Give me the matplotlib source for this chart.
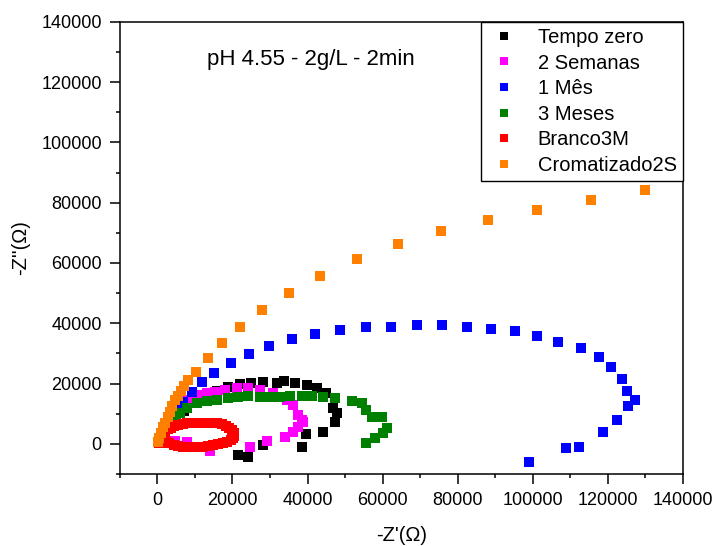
import matplotlib
matplotlib.use("Agg")
import matplotlib.pyplot as plt
from matplotlib.ticker import MultipleLocator

plt.rcParams['font.family'] = ['Liberation Sans', 'DejaVu Sans']

# Nyquist data, -Z' and -Z'' in ohm
t0_x = [1000, 2000, 3500, 5000, 7000, 9500, 12500, 16000, 18800, 22000, 24900, 28100,
        31800, 33700, 36600, 39800, 42500, 44900, 46800, 47800, 47300, 44100, 39600,
        38500, 28100, 24100, 21400]
t0_y = [1000, 3500, 6000, 8500, 11000, 13500, 15500, 17500, 18900, 19900, 20200, 20600,
        20200, 20900, 20200, 19600, 18600, 16900, 12000, 10300, 7300, 4000, 3300,
        -1000, -300, -4300, -3700]

s2_x = [1000, 2000, 3500, 5000, 6500, 7900, 10500, 13200, 15300, 18000, 21200, 24100,
        27300, 30800, 34500, 36100, 37400, 38500, 38800, 37400, 36100, 34000, 29200,
        24600, 14000, 7900, 4800]
s2_y = [1500, 4000, 7000, 9500, 12000, 14600, 16300, 16900, 17300, 17900, 18600, 18600,
        17900, 16900, 14600, 12900, 9600, 8000, 7300, 5600, 4000, 2300, 1000,
        -1000, -2300, 700, 1000]

m1_x = [800, 1500, 2500, 3500, 4500, 5500, 6800, 9200, 11900, 15100, 19600, 24400,
        29700, 35800, 42000, 48600, 55600, 62200, 69100, 75800, 82400, 88800, 95300,
        101100, 106700, 112800, 117600, 120800, 123800, 125100, 127200, 125400,
        122400, 118700, 112300, 108800, 99000]
m1_y = [1500, 3000, 5000, 7200, 9500, 11900, 13900, 17100, 20600, 23600, 26900, 29900,
        32500, 34800, 36500, 37800, 38800, 38800, 39500, 39500, 38800, 38200, 37500,
        35800, 33800, 31800, 28900, 25500, 21600, 17600, 14600, 12600,
        8000, 4000, -1000, -1300, -6000]

m3_x = [500, 1200, 2000, 3200, 4700, 6000, 7900, 10500, 13200, 15900, 18800, 21400,
        24100, 27300, 30000, 32600, 35300, 38500, 41200, 44100, 47300, 51800, 54600,
        55600, 57200, 59900, 61200, 60100, 58000, 55600]
m3_y = [1000, 2500, 4500, 6500, 8600, 10200, 11900, 13600, 14300, 14600, 15300, 15600,
        15900, 15600, 15600, 15600, 15900, 15900, 15900, 15600, 15300, 14300, 13600,
        11300, 9000, 9000, 5300, 3600, 2000, 300]

br_x = [300, 600, 1000, 1500, 2000, 2700, 3500, 4500, 5500, 6700, 8000, 9300, 10700,
        12000, 13400, 14800, 16000, 17200, 18300, 19200, 19900, 20400, 20500, 20200,
        19500, 18600, 17500, 16200, 14800, 13400, 12000, 10700, 9300, 8000, 6700,
        5500, 4300, 3200, 2300]
br_y = [300, 1200, 2200, 3200, 4000, 4800, 5400, 5900, 6300, 6600, 6800, 6900, 7000,
        7000, 7000, 6900, 6800, 6500, 6000, 5300, 4500, 3600, 2700, 1900,
        1200, 700, 300, 0, -300, -600, -900, -1100, -1200, -1100, -900,
        -600, -300, 100, 600]

cr_x = [200, 500, 1000, 1500, 2000, 2800, 3300, 4000, 4800, 5500, 6300, 7200, 8100,
        10300, 13500, 17200, 22000, 27800, 35000, 43300, 53200, 64100, 75500, 88000,
        101100, 115500, 129900]
cr_y = [500, 2000, 3600, 5500, 7000, 9000, 10500, 12500, 14500, 16000, 17500, 19300,
        21200, 23900, 28500, 33500, 38800, 44500, 50100, 55700, 61400, 66400, 70700,
        74300, 77600, 81000, 84300]

series = [
    (t0_x, t0_y, '#000000', 'Tempo zero'),
    (s2_x, s2_y, '#FF00FF', '2 Semanas'),
    (m1_x, m1_y, '#0000FF', '1 Mês'),
    (m3_x, m3_y, '#008000', '3 Meses'),
    (br_x, br_y, '#FF0000', 'Branco3M'),
    (cr_x, cr_y, '#FF8000', 'Cromatizado2S'),
]

fig = plt.figure(figsize=(7.18, 5.46), dpi=100)
ax = fig.add_axes([0.167, 0.132, 0.784, 0.828])

for x, y, c, lab in series:
    ax.plot(x, y, 's', color=c, ms=7.2, mew=0, label=lab)

ax.set_xlim(-10000, 140000)
ax.set_ylim(-10000, 140000)
ax.xaxis.set_major_locator(MultipleLocator(20000))
ax.xaxis.set_minor_locator(MultipleLocator(10000))
ax.yaxis.set_major_locator(MultipleLocator(20000))
ax.yaxis.set_minor_locator(MultipleLocator(10000))
ax.tick_params(which='major', direction='out', length=7, width=1.1, labelsize=13, pad=6)
ax.tick_params(which='minor', direction='out', length=3, width=1.1)
for s in ax.spines.values():
    s.set_linewidth(1.1)

ax.set_xlabel("-Z'(Ω)", fontsize=14.5, labelpad=12)
ax.set_ylabel("-Z''(Ω)", fontsize=14.5, labelpad=8)

ax.text(0.339, 0.916, 'pH 4.55 - 2g/L - 2min', transform=ax.transAxes,
        ha='center', va='center', fontsize=16)

leg = ax.legend(loc='upper right', borderaxespad=0, fontsize=14.5, markerscale=0.75,
                fancybox=False, edgecolor='black', framealpha=1,
                handletextpad=0.9, labelspacing=0.33, borderpad=0.3,
                handlelength=1.6)
leg.get_frame().set_linewidth(1.0)

fig.savefig('out.png', dpi=100)
